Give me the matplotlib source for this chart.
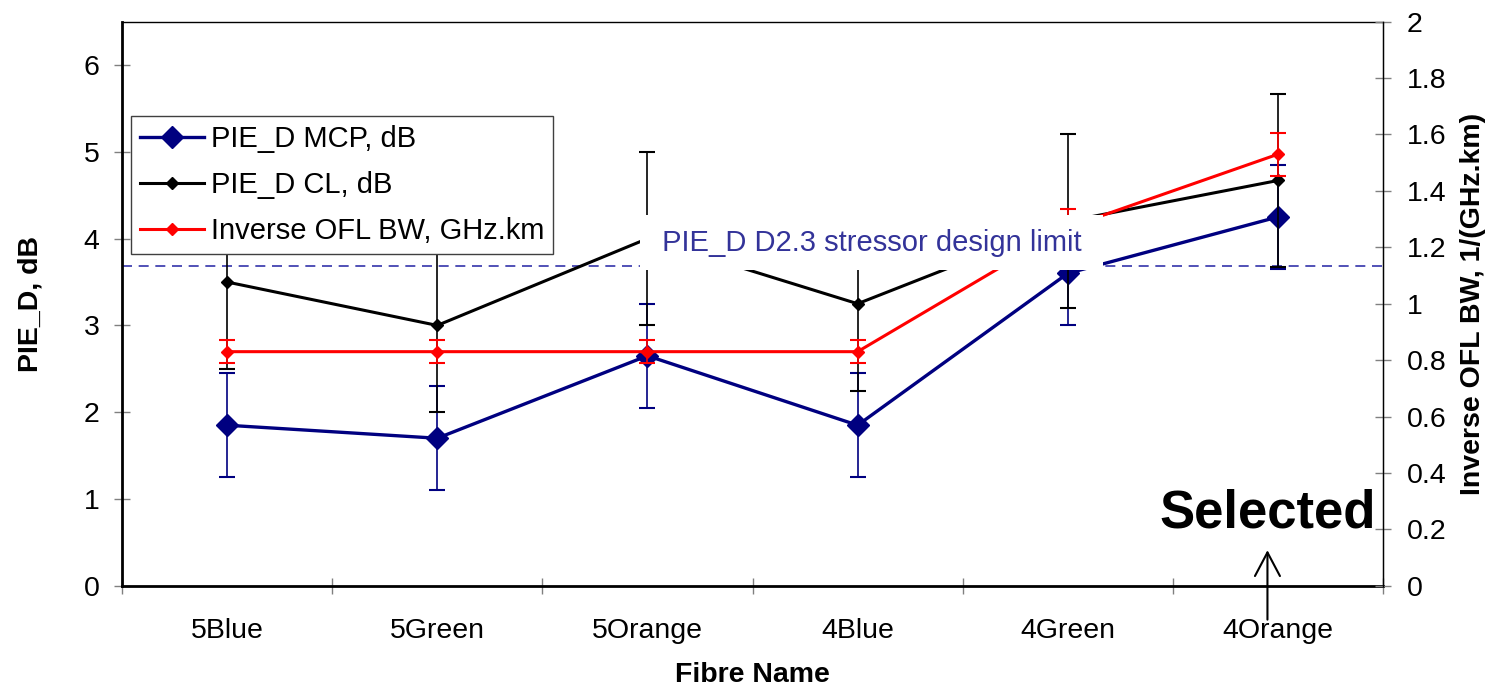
import numpy as np
import matplotlib
matplotlib.use('Agg')
import matplotlib.pyplot as plt

plt.rcParams['font.family'] = ['Liberation Sans', 'DejaVu Sans']

categories = ['5Blue', '5Green', '5Orange', '4Blue', '4Green', '4Orange']
mcp = [1.85, 1.70, 2.65, 1.85, 3.60, 4.25]
mcp_err = [0.6, 0.6, 0.6, 0.6, 0.6, 0.6]
cl = [3.5, 3.0, 4.0, 3.25, 4.2, 4.67]
cl_err = [1.0, 1.0, 1.0, 1.0, 1.0, 1.0]
inv_bw = [0.83, 0.83, 0.83, 0.83, 1.27, 1.53]
inv_bw_err = [0.04, 0.04, 0.04, 0.04, 0.065, 0.077]
design_limit = 3.69

x = np.arange(len(categories))

fig = plt.figure(figsize=(14.91, 6.92), dpi=100)
ax1 = fig.add_axes([0.0818, 0.1535, 0.8458, 0.8152])
ax2 = ax1.twinx()

navy = '#000080'
eb1 = ax1.errorbar(x, mcp, yerr=mcp_err, color=navy, lw=2.4, marker='D', ms=11,
                   ecolor=navy, elinewidth=1.2, capsize=6, capthick=1.5, zorder=2)
eb2 = ax1.errorbar(x, cl, yerr=cl_err, color='black', lw=2.2, marker='D', ms=6.5,
                   ecolor='black', elinewidth=1.2, capsize=6, capthick=1.5, zorder=3)
eb3 = ax2.errorbar(x, inv_bw, yerr=inv_bw_err, color='#ff0000', lw=2.2, marker='D', ms=6.5,
                   ecolor='#ff0000', elinewidth=1.2, capsize=6, capthick=1.5, zorder=4)

ax1.axhline(design_limit, color='#3333aa', lw=1.2, ls=(0, (6, 4)), zorder=1)

ax1.set_xlim(-0.5, 5.5)
ax1.set_ylim(0, 6.5)
ax2.set_ylim(0, 2)
ax1.set_yticks(np.arange(0, 7, 1))
ax2.set_yticks(np.arange(0, 2.01, 0.2))
ax2.set_yticklabels(['%g' % round(v, 1) for v in np.arange(0, 2.01, 0.2)])

ax1.set_xticks(np.arange(-0.5, 6, 1))
ax1.set_xticklabels([])
ax1.set_xticks(x, minor=True)
ax1.set_xticklabels(categories, minor=True)
ax1.tick_params(axis='x', which='minor', length=0, pad=23, labelsize=20.5)
ax1.tick_params(axis='x', which='major', direction='inout', length=12, color='#808080', width=1)
ax1.tick_params(axis='y', direction='inout', length=12, color='#808080', width=1, labelsize=20.5, pad=10)
ax2.tick_params(axis='y', direction='inout', length=12, color='#808080', width=1, labelsize=20.5, pad=11)

for s in ['left', 'bottom']:
    ax1.spines[s].set_linewidth(2)
ax1.spines['top'].set_linewidth(1)
ax2.spines['right'].set_linewidth(1)
ax2.spines['left'].set_visible(False)
ax2.spines['bottom'].set_visible(False)
ax2.spines['top'].set_visible(False)

ax1.set_xlabel('Fibre Name', fontsize=20.5, fontweight='bold', labelpad=13)
ax1.set_ylabel('PIE_D, dB', fontsize=20.5, fontweight='bold', labelpad=29)
ax2.set_ylabel('Inverse OFL BW, 1/(GHz.km)', fontsize=20.5, fontweight='bold', labelpad=10)

ax2.text(3.066, 3.952 / 6.5 * 2, ' PIE_D D2.3 stressor design limit ', color='#333399',
         fontsize=21, ha='center', va='center', zorder=10,
         bbox=dict(boxstyle='square,pad=0.46', fc='white', ec='none'))

leg = ax2.legend([eb1[0], eb2[0], eb3[0]],
                 ['PIE_D MCP, dB', 'PIE_D CL, dB', 'Inverse OFL BW, GHz.km'],
                 loc='upper left', bbox_to_anchor=(0.007, 0.832), fontsize=21,
                 frameon=True, fancybox=False, framealpha=1, edgecolor='#404040',
                 handlelength=2.2, handletextpad=0.25, labelspacing=0.62,
                 borderpad=0.3, borderaxespad=0)
leg.get_frame().set_linewidth(1)
leg.set_zorder(9)

ax1.text(4.95, 0.67, 'Selected', fontsize=38, fontweight='bold', ha='center', va='baseline')
ax1.annotate('', xy=(4.95, 0.41), xytext=(4.95, -0.39), xycoords='data',
             arrowprops=dict(arrowstyle='->,head_length=0.85,head_width=0.45',
                             lw=1.5, color='black', mutation_scale=20, shrinkA=0, shrinkB=0),
             annotation_clip=False)

fig.savefig('out.png', dpi=100)
